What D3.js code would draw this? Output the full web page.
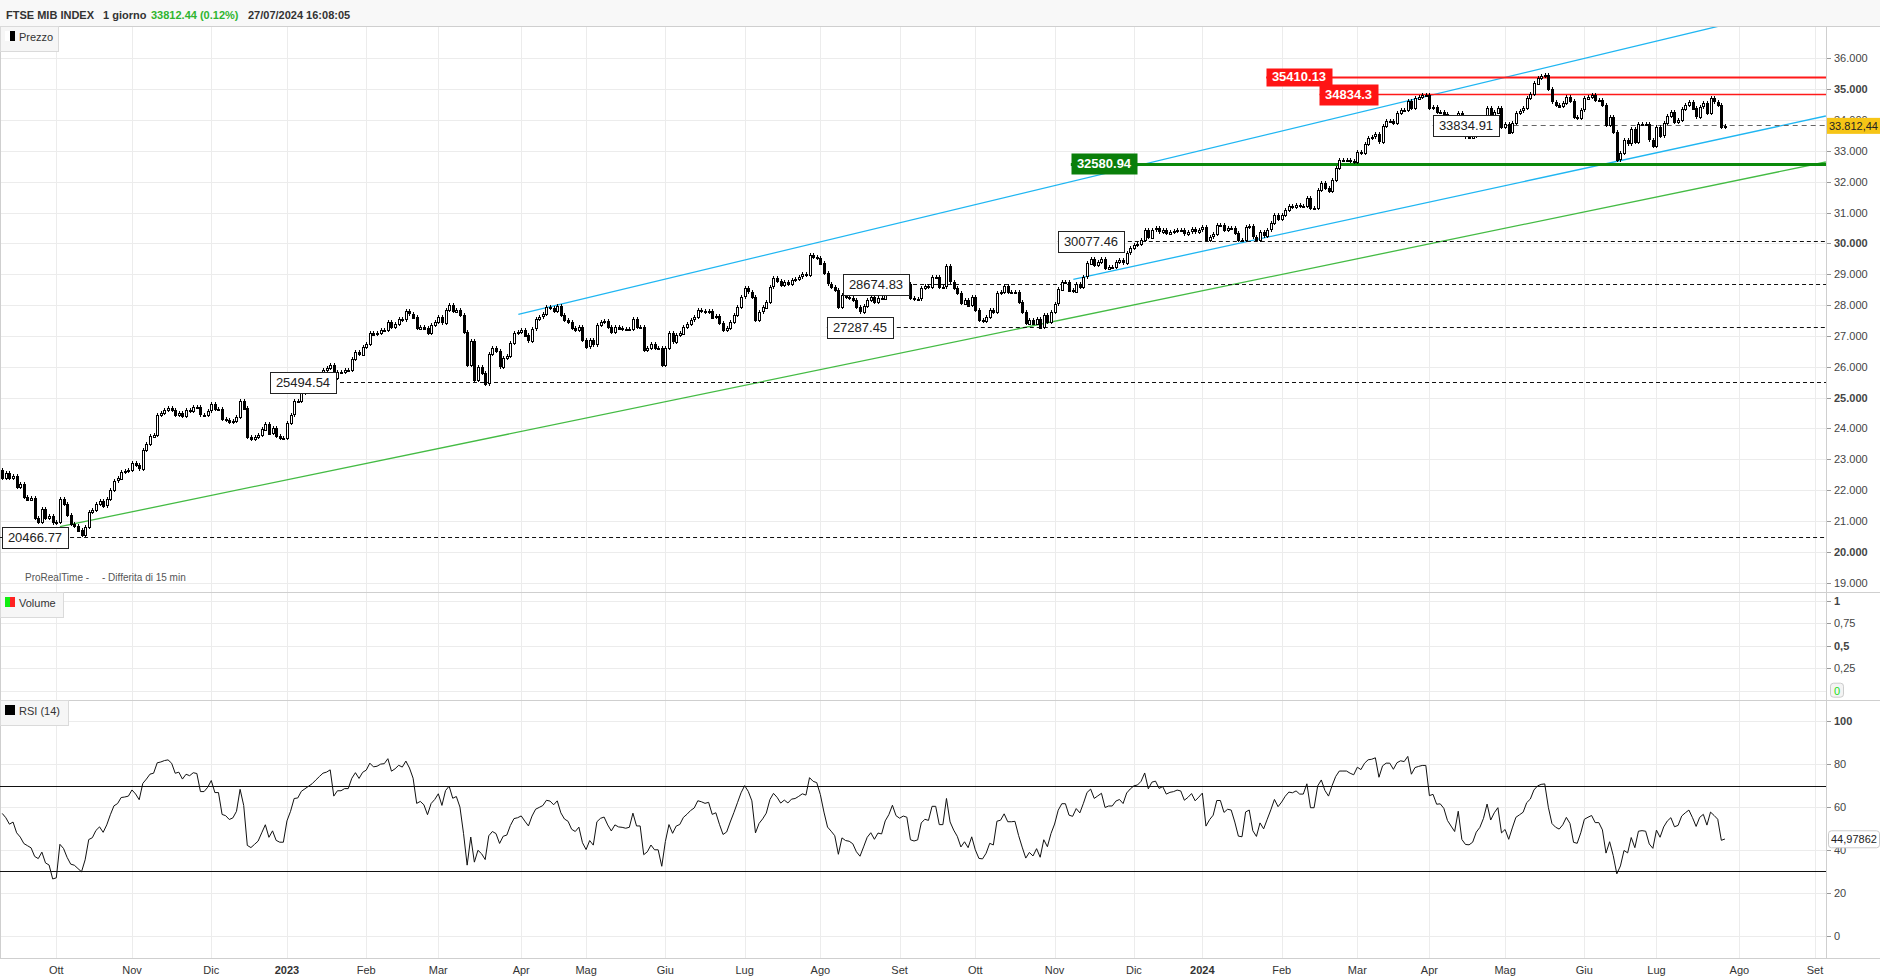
<!DOCTYPE html>
<html>
<head>
<meta charset="utf-8">
<script src="https://cdn.jsdelivr.net/npm/d3@7"></script>
<style>
  body { margin: 0; background: #fff; }
  svg text { font-family: "Liberation Sans", Arial, sans-serif; }
</style>
</head>
<body>
<svg id="chart" width="1880" height="979"></svg>
<script>
// ---- data ----
var startDay = "2022-09-12";
var endAxisDay = "2024-09-06";
var holidays = ["2022-12-26", "2023-04-07", "2023-04-10", "2023-05-01", "2023-08-15",
    "2023-12-25", "2023-12-26", "2024-01-01", "2024-03-29", "2024-04-01", "2024-05-01", "2024-08-15"];
var monthNames = ["Gen", "Feb", "Mar", "Apr", "Mag", "Giu", "Lug", "Ago", "Set", "Ott", "Nov", "Dic"];

var firstOpen = 22650;
var closes = [
    // set 2022
    22400, 22550, 22400, 22450, 22100, 22200, 21785, 21700, 21750, 21100, 20980, 21400, 21100, 21150, 20950,
    // ott
    20970, 21700, 21550, 21200, 20900, 20850, 20700, 20550, 20800, 21300, 21350, 21550, 21650, 21500, 21700,
    22000, 22300, 22380, 22600, 22620, 22650,
    // nov
    22870, 22800, 22700, 23300, 23500, 23750, 23800, 24440, 24500, 24600, 24650, 24600, 24450, 24500, 24400,
    24600, 24580, 24700, 24690, 24450, 24450, 24570,
    // dic
    24780, 24620, 24620, 24300, 24280, 24220, 24250, 24370, 24900, 24650, 23720, 23650, 23720, 23790, 23970,
    24160, 23850, 24000, 23750, 23700, 23700,
    // gen 2023
    24180, 24450, 24880, 24900, 25150, 25250, 25350, 25450, 25600, 25750, 25900, 25950, 26050, 25650, 25830,
    25830, 25900, 25900, 26250, 26480, 26400, 26650,
    // feb
    26750, 27100, 27050, 27080, 27180, 27200, 27450, 27300, 27400, 27550, 27530, 27800, 27720, 27600, 27250,
    27300, 27250, 27100, 27350, 27450,
    // mar
    27600, 27430, 27840, 27990, 27800, 27850, 27680, 27140, 26060, 26850, 25570, 26000, 25800, 25450, 26400,
    26600, 26500, 26000, 26300, 26350, 26760, 27080, 27120,
    // apr
    27200, 27020, 26850, 27240, 27540, 27620, 27700, 27930, 27910, 27820, 27970, 27680, 27520, 27460, 27250,
    27190, 27300, 26870,
    // mag
    26650, 26860, 26720, 27350, 27460, 27500, 27300, 27140, 27300, 27250, 27240, 27220, 27240, 27560, 27300,
    27300, 26540, 26600, 26740, 26600, 26600, 26060,
    // giu
    26600, 27080, 26810, 27030, 27080, 27300, 27400, 27520, 27600, 27840, 27820, 27790, 27820, 27600, 27640,
    27420, 27200, 27250, 27460, 27680, 27950, 28270,
    // lug
    28540, 28440, 28270, 27520, 27790, 27930, 28110, 28600, 28870, 28780, 28650, 28760, 28700, 28830, 28850,
    28920, 29000, 28980, 29620, 29560, 29540,
    // ago
    29350, 29030, 28700, 28600, 28490, 27950, 28330, 28250, 28230, 28160, 27930, 27790, 27970, 28170, 28270,
    28110, 28240, 28220, 28500, 28650, 28900, 28700,
    // set
    28650, 28700, 28680, 28220, 28190, 28210, 28540, 28620, 28600, 28920, 28920, 28600, 28600, 29260, 28760,
    28550, 28380, 28060, 28180, 28000, 28250,
    // ott
    27840, 27520, 27500, 27620, 27840, 27790, 28400, 28430, 28620, 28430, 28430, 28440, 28110, 27780, 27410,
    27530, 27410, 27560, 27280, 27670, 27450, 27780,
    // nov
    28050, 28510, 28760, 28760, 28480, 28450, 28700, 28600, 28920, 29350, 29500, 29300, 29400, 29500, 29200,
    29250, 29250, 29400, 29450, 29380, 29700, 29840,
    // dic
    29950, 29980, 30110, 30440, 30200, 30450, 30490, 30380, 30440, 30330, 30380, 30400, 30440, 30430, 30320,
    30380, 30460, 30380, 30450,
    // gen 2024
    30530, 30110, 30220, 30300, 30600, 30600, 30440, 30500, 30490, 30330, 30110, 30100, 30520, 30560, 30220,
    30110, 30360, 30250, 30440, 30650, 30920, 30800,
    // feb
    30920, 31080, 31200, 31190, 31240, 31200, 31200, 31460, 31140, 31140, 31730, 31950, 31790, 31700, 32050,
    32430, 32700, 32700, 32700, 32670, 32650,
    // mar
    32970, 32940, 33240, 33430, 33460, 33540, 33300, 33820, 33970, 33970, 33890, 34220, 34330, 34320, 34620,
    34380, 34700, 34760, 34810, 34810,
    // apr
    34380, 34420, 34260, 34270, 34200, 34000, 33900, 33800, 34220, 33600, 33460, 33450, 33500, 33700, 33800,
    34000, 34380, 34050, 34250, 34400, 33790,
    // mag
    33880, 33600, 33900, 34220, 34300, 34380, 34700, 34830, 35190, 35370, 35440, 35460, 35000, 34600, 34500,
    34450, 34560, 34760, 34620, 34110, 34080, 34330,
    // giu
    34700, 34760, 34810, 34650, 34650, 34490, 33840, 34100, 33620, 32720, 32920, 33350, 33240, 33710, 33280,
    33860, 33880, 33860, 33360, 33170,
    // lug
    33790, 33500, 33890, 34130, 34270, 33950, 34000, 34360, 34490, 34600, 34380, 34110, 34430, 34540, 34220,
    34700, 34600, 34490, 33772, 33812.44
];

// RSI values of the first bars (before 14 closes are available)
var rsiHead = [57, 55, 52, 53, 48, 46, 43, 42, 41, 37, 36, 39, 34, 33];
var rsiLastLabel = 44.97862;

var priceTicks = d3.range(19000, 36001, 1000);
var priceBold = [20000, 25000, 30000, 35000];
var volTicks = [0, 0.25, 0.5, 0.75, 1];
var volTickLabels = ["0", "0,25", "0,5", "0,75", "1"];
var rsiTicks = [0, 20, 40, 60, 80, 100];
var rsiBands = [70, 30];
var rsiPeriod = 14;

// horizontal levels: value, first bar index, kind
var levels = [
    {value: 20466.77, from: -0.6, kind: "dash"},
    {value: 25494.54, from: 74.3, kind: "dash"},
    {value: 27287.45, from: 228.8, kind: "dash"},
    {value: 28674.83, from: 233.3, kind: "dash"},
    {value: 30077.46, from: 292.9, kind: "dash"},
    {value: 33834.91, from: 396.9, kind: "grey"},
    {value: 32580.94, from: 296.5, kind: "support"},
    {value: 35410.13, from: 350.7, kind: "resist"},
    {value: 34834.3, from: 365.5, kind: "resist2"}
];
// trend lines: bar index / price at both ends
var trendlines = [
    {i0: 143.2, p0: 27702, i1: 481, p1: 37177, kind: "blue"},
    {i0: 297.2, p0: 28837, i1: 506, p1: 34132, kind: "blue"},
    {i0: 16.0, p0: 20815, i1: 506, p1: 32641, kind: "green"}
];

// ---- helpers ----
var it = d3.formatLocale({decimal: ",", thousands: ".", grouping: [3], currency: ["€", ""]});
var fmtK = it.format(",.0f");
var fmt2 = it.format(",.2f");

var hol = new Set(holidays);
var dates = [];
var day = new Date(startDay + "T00:00:00Z");
var lastDay = new Date(endAxisDay + "T00:00:00Z");
while (day <= lastDay) {
    var dow = day.getUTCDay();
    var iso = day.toISOString().slice(0, 10);
    if (dow !== 0 && dow !== 6 && !hol.has(iso)) dates.push(new Date(day));
    day.setUTCDate(day.getUTCDate() + 1);
}

var bars = closes.map(function (c, i) {
    return {i: i, open: i === 0 ? firstOpen : closes[i - 1], close: c};
});

// Wilder RSI on the closes
function computeRsi(vals, n) {
    var out = [];
    var g = 0, l = 0;
    for (var k = 1; k <= n; k++) {
        var d0 = vals[k] - vals[k - 1];
        if (d0 > 0) g += d0; else l -= d0;
    }
    g /= n; l /= n;
    out.push({i: n, v: 100 - 100 / (1 + g / l)});
    for (k = n + 1; k < vals.length; k++) {
        var d1 = vals[k] - vals[k - 1];
        g = (g * (n - 1) + Math.max(d1, 0)) / n;
        l = (l * (n - 1) + Math.max(-d1, 0)) / n;
        out.push({i: k, v: 100 - 100 / (1 + g / l)});
    }
    return out;
}
var rsi = rsiHead.map(function (v, i) { return {i: i, v: v}; }).concat(computeRsi(closes, rsiPeriod));

// ---- layout ----
var W = 1880, H = 979;
var plotR = 1826;
var pTop = 26, pBot = 592, vBot = 700, rBot = 958;

var svg = d3.select("#chart");

var x = d3.scaleLinear().domain([-0.6215, 506.04]).range([0, plotR]);
var y = d3.scaleLinear().domain([36000, 19000]).range([58.4, 58.4 + 17000 * 0.03084]);
var yv = d3.scaleLinear().domain([0, 1]).range([690.7, 600.7]);
var yr = d3.scaleLinear().domain([0, 100]).range([936, 721]);

// header
svg.append("rect").attr("x", 0).attr("y", 0).attr("width", W).attr("height", pTop).attr("fill", "#f8f8f8");
var head = svg.append("text").attr("x", 6).attr("y", 19).attr("font-size", 11).attr("font-weight", "bold").attr("fill", "#333");
head.append("tspan").text("FTSE MIB INDEX");
head.append("tspan").attr("x", 103).text("1 giorno");
head.append("tspan").attr("x", 151).attr("fill", "#2fb52f").text("33812.44 (0.12%)");
head.append("tspan").attr("x", 248).text("27/07/2024 16:08:05");

// grid
var grid = svg.append("g").attr("stroke", "#ececec").attr("stroke-width", 1).attr("shape-rendering", "crispEdges");
var monthStarts = [];
dates.forEach(function (d, i) {
    if (i > 0 && d.getUTCMonth() !== dates[i - 1].getUTCMonth()) monthStarts.push({i: i, d: d});
});
grid.selectAll("line.v").data(monthStarts).enter().append("line")
    .attr("x1", function (m) { return Math.round(x(m.i)) + 0.5; })
    .attr("x2", function (m) { return Math.round(x(m.i)) + 0.5; })
    .attr("y1", pTop).attr("y2", rBot);
grid.selectAll("line.p").data(priceTicks).enter().append("line")
    .attr("x1", 0).attr("x2", plotR)
    .attr("y1", function (v) { return Math.round(y(v)) + 0.5; })
    .attr("y2", function (v) { return Math.round(y(v)) + 0.5; });
grid.selectAll("line.vol").data(volTicks).enter().append("line")
    .attr("x1", 0).attr("x2", plotR)
    .attr("y1", function (v) { return Math.round(yv(v)) + 0.5; })
    .attr("y2", function (v) { return Math.round(yv(v)) + 0.5; });
grid.selectAll("line.r").data(rsiTicks).enter().append("line")
    .attr("x1", 0).attr("x2", plotR)
    .attr("y1", function (v) { return Math.round(yr(v)) + 0.5; })
    .attr("y2", function (v) { return Math.round(yr(v)) + 0.5; });

// panel frames
var frame = svg.append("g").attr("stroke", "#cfcfcf").attr("shape-rendering", "crispEdges");
[pTop, pBot, vBot, rBot].forEach(function (yy) {
    frame.append("line").attr("x1", 0).attr("x2", W).attr("y1", yy + 0.5).attr("y2", yy + 0.5);
});
frame.append("line").attr("x1", plotR + 0.5).attr("x2", plotR + 0.5).attr("y1", pTop).attr("y2", rBot);
frame.append("line").attr("x1", 0.5).attr("x2", 0.5).attr("y1", pTop).attr("y2", rBot);

// price panel clip
svg.append("clipPath").attr("id", "clipP").append("rect")
    .attr("x", 0).attr("y", pTop + 1).attr("width", plotR).attr("height", pBot - pTop - 1);
var pricePlot = svg.append("g").attr("clip-path", "url(#clipP)");

// trend lines
var trendColor = {blue: "#1fb6f2", green: "#44bb44"};
pricePlot.selectAll("line.trend").data(trendlines).enter().append("line")
    .attr("x1", function (t) { return x(t.i0); }).attr("y1", function (t) { return y(t.p0); })
    .attr("x2", function (t) { return x(t.i1); }).attr("y2", function (t) { return y(t.p1); })
    .attr("stroke", function (t) { return trendColor[t.kind]; })
    .attr("stroke-width", 1.3);

// level lines
var levelStyle = {
    dash: {stroke: "#111", width: 1, dash: "4,3"},
    grey: {stroke: "#666", width: 1.2, dash: "5,4"},
    support: {stroke: "#0b8a0b", width: 3, dash: null},
    resist: {stroke: "#ff1a1a", width: 2, dash: null},
    resist2: {stroke: "#ff1a1a", width: 1.4, dash: null}
};
pricePlot.selectAll("line.level").data(levels).enter().append("line")
    .attr("x1", function (l) { return Math.max(0, x(l.from)); }).attr("x2", plotR)
    .attr("y1", function (l) { return Math.round(y(l.value)) + 0.5; })
    .attr("y2", function (l) { return Math.round(y(l.value)) + 0.5; })
    .attr("stroke", function (l) { return levelStyle[l.kind].stroke; })
    .attr("stroke-width", function (l) { return levelStyle[l.kind].width; })
    .attr("stroke-dasharray", function (l) { return levelStyle[l.kind].dash; });

// candles
var cg = pricePlot.append("g").attr("shape-rendering", "crispEdges");
cg.selectAll("line.wick").data(bars).enter().append("line")
    .attr("x1", function (b) { return Math.round(x(b.i)) + 0.5; })
    .attr("x2", function (b) { return Math.round(x(b.i)) + 0.5; })
    .attr("y1", function (b) { return Math.round(y(Math.max(b.open, b.close))) - 2; })
    .attr("y2", function (b) { return Math.round(y(Math.min(b.open, b.close))) + 2; })
    .attr("stroke", "#000");
cg.selectAll("rect.body").data(bars).enter().append("rect")
    .attr("x", function (b) { return Math.round(x(b.i)) - 1 + 0.5; })
    .attr("width", 2)
    .attr("y", function (b) { return Math.round(y(Math.max(b.open, b.close))) + 0.5; })
    .attr("height", function (b) { return Math.max(1, Math.round(Math.abs(y(b.open) - y(b.close)))); })
    .attr("fill", function (b) { return b.close >= b.open ? "#fff" : "#000"; })
    .attr("stroke", "#000").attr("stroke-width", 1);

// level label boxes
var boxStyle = {
    dash: {fill: "#fff", stroke: "#222", text: "#222", bold: false, h: 21},
    grey: {fill: "#fff", stroke: "#222", text: "#222", bold: false, h: 21},
    support: {fill: "#0a7f0a", stroke: "none", text: "#fff", bold: true, h: 21},
    resist: {fill: "#ff1414", stroke: "none", text: "#fff", bold: true, h: 18},
    resist2: {fill: "#ff1414", stroke: "none", text: "#fff", bold: true, h: 21}
};
var lg = svg.append("g");
levels.forEach(function (l) {
    var st = boxStyle[l.kind];
    var g = lg.append("g");
    var t = g.append("text").attr("font-size", 13).attr("font-weight", st.bold ? "bold" : "normal")
        .attr("fill", st.text).attr("text-anchor", "middle").text(String(l.value));
    var tw = t.node().getComputedTextLength();
    var bw = Math.round(tw + 12);
    var bx = Math.max(2, Math.round(x(l.from)));
    var cy = y(l.value);
    g.insert("rect", "text").attr("x", bx + 0.5).attr("y", Math.round(cy - st.h / 2) + 0.5)
        .attr("width", bw).attr("height", st.h)
        .attr("fill", st.fill).attr("stroke", st.stroke);
    t.attr("x", bx + bw / 2).attr("y", cy + 4.5);
});

// volume "0" tag background (drawn before the axis text)
svg.append("rect").attr("x", plotR + 4.5).attr("y", yv(0) - 7.5).attr("width", 13).attr("height", 14)
    .attr("rx", 3).attr("fill", "#f4f4f4").attr("stroke", "#ccc");

// right axis: price
var ax = svg.append("g").attr("font-size", 11).attr("fill", "#444");
ax.selectAll("text.p").data(priceTicks).enter().append("text")
    .attr("x", plotR + 8).attr("y", function (v) { return y(v) + 4; })
    .attr("font-weight", function (v) { return priceBold.indexOf(v) >= 0 ? "bold" : "normal"; })
    .text(function (v) { return fmtK(v); });
ax.selectAll("line.pt").data(priceTicks).enter().append("line")
    .attr("x1", plotR + 1).attr("x2", plotR + 5)
    .attr("y1", function (v) { return Math.round(y(v)) + 0.5; })
    .attr("y2", function (v) { return Math.round(y(v)) + 0.5; })
    .attr("stroke", "#999");

// current price tag
var lastClose = closes[closes.length - 1];
svg.append("rect").attr("x", plotR + 1).attr("y", y(lastClose) - 8).attr("width", W - plotR - 1).attr("height", 16)
    .attr("fill", "#f6c516");
svg.append("text").attr("x", plotR + 3).attr("y", y(lastClose) + 4).attr("font-size", 11).attr("fill", "#222")
    .text(fmt2(lastClose));

// volume axis
ax.selectAll("text.v").data(volTicks).enter().append("text")
    .attr("x", plotR + 8).attr("y", function (v) { return yv(v) + 4; })
    .attr("font-weight", function (v) { return v === 1 || v === 0.5 ? "bold" : "normal"; })
    .attr("fill", function (v) { return v === 0 ? "#22dd22" : "#444"; })
    .text(function (v, k) { return volTickLabels[k]; });
ax.selectAll("line.vt").data(volTicks.slice(1)).enter().append("line")
    .attr("x1", plotR + 1).attr("x2", plotR + 5)
    .attr("y1", function (v) { return Math.round(yv(v)) + 0.5; })
    .attr("y2", function (v) { return Math.round(yv(v)) + 0.5; })
    .attr("stroke", "#999");

// RSI panel
var rsiG = svg.append("g");
rsiG.selectAll("line.band").data(rsiBands).enter().append("line")
    .attr("x1", 0).attr("x2", plotR)
    .attr("y1", function (v) { return Math.round(yr(v)) + 0.5; })
    .attr("y2", function (v) { return Math.round(yr(v)) + 0.5; })
    .attr("stroke", "#111").attr("stroke-width", 1.2);
rsiG.append("path").datum(rsi)
    .attr("d", d3.line().x(function (r) { return x(r.i); }).y(function (r) { return yr(r.v); }))
    .attr("fill", "none").attr("stroke", "#111").attr("stroke-width", 1);
ax.selectAll("text.r").data(rsiTicks).enter().append("text")
    .attr("x", plotR + 8).attr("y", function (v) { return yr(v) + 4; })
    .attr("font-weight", function (v) { return v === 100 ? "bold" : "normal"; })
    .text(function (v) { return v; });
ax.selectAll("line.rt").data(rsiTicks).enter().append("line")
    .attr("x1", plotR + 1).attr("x2", plotR + 5)
    .attr("y1", function (v) { return Math.round(yr(v)) + 0.5; })
    .attr("y2", function (v) { return Math.round(yr(v)) + 0.5; })
    .attr("stroke", "#999");
svg.append("rect").attr("x", plotR + 2.5).attr("y", yr(rsiLastLabel) - 8.5).attr("width", 51).attr("height", 17)
    .attr("rx", 3).attr("fill", "#fff").attr("stroke", "#ccc");
svg.append("text").attr("x", plotR + 5).attr("y", yr(rsiLastLabel) + 4).attr("font-size", 11).attr("fill", "#222")
    .text(it.format(".5f")(rsiLastLabel));

// x axis labels
svg.append("g").attr("font-size", 11).attr("fill", "#333").attr("text-anchor", "middle")
    .selectAll("text").data(monthStarts).enter().append("text")
    .attr("x", function (m) { return x(m.i); }).attr("y", 974)
    .attr("font-weight", function (m) { return m.d.getUTCMonth() === 0 ? "bold" : "normal"; })
    .text(function (m) { return m.d.getUTCMonth() === 0 ? m.d.getUTCFullYear() : monthNames[m.d.getUTCMonth()]; });

// panel legends
function legend(yTop, w, label, colors) {
    var g = svg.append("g");
    g.append("rect").attr("x", 0.5).attr("y", yTop + 0.5).attr("width", w).attr("height", 25)
        .attr("fill", "#f6f6f6").attr("stroke", "#dadada");
    colors.forEach(function (c, k) {
        g.append("rect").attr("x", 5 + k * 5).attr("y", yTop + 5).attr("width", colors.length === 1 ? 10 : 5).attr("height", 10).attr("fill", c);
    });
    g.append("text").attr("x", 19).attr("y", yTop + 15).attr("font-size", 11).attr("fill", "#333").text(label);
}
legend(pTop, 58, "Prezzo", ["#fff", "#000"]);
legend(pBot, 63, "Volume", ["#11ee11", "#ff2222"]);
legend(vBot, 68, "RSI (14)", ["#000"]);

svg.append("text").attr("x", 25).attr("y", 581).attr("font-size", 10).attr("fill", "#555").text("ProRealTime -");
svg.append("text").attr("x", 102).attr("y", 581).attr("font-size", 10).attr("fill", "#555").text("- Differita di 15 min");
</script>
</body>
</html>
